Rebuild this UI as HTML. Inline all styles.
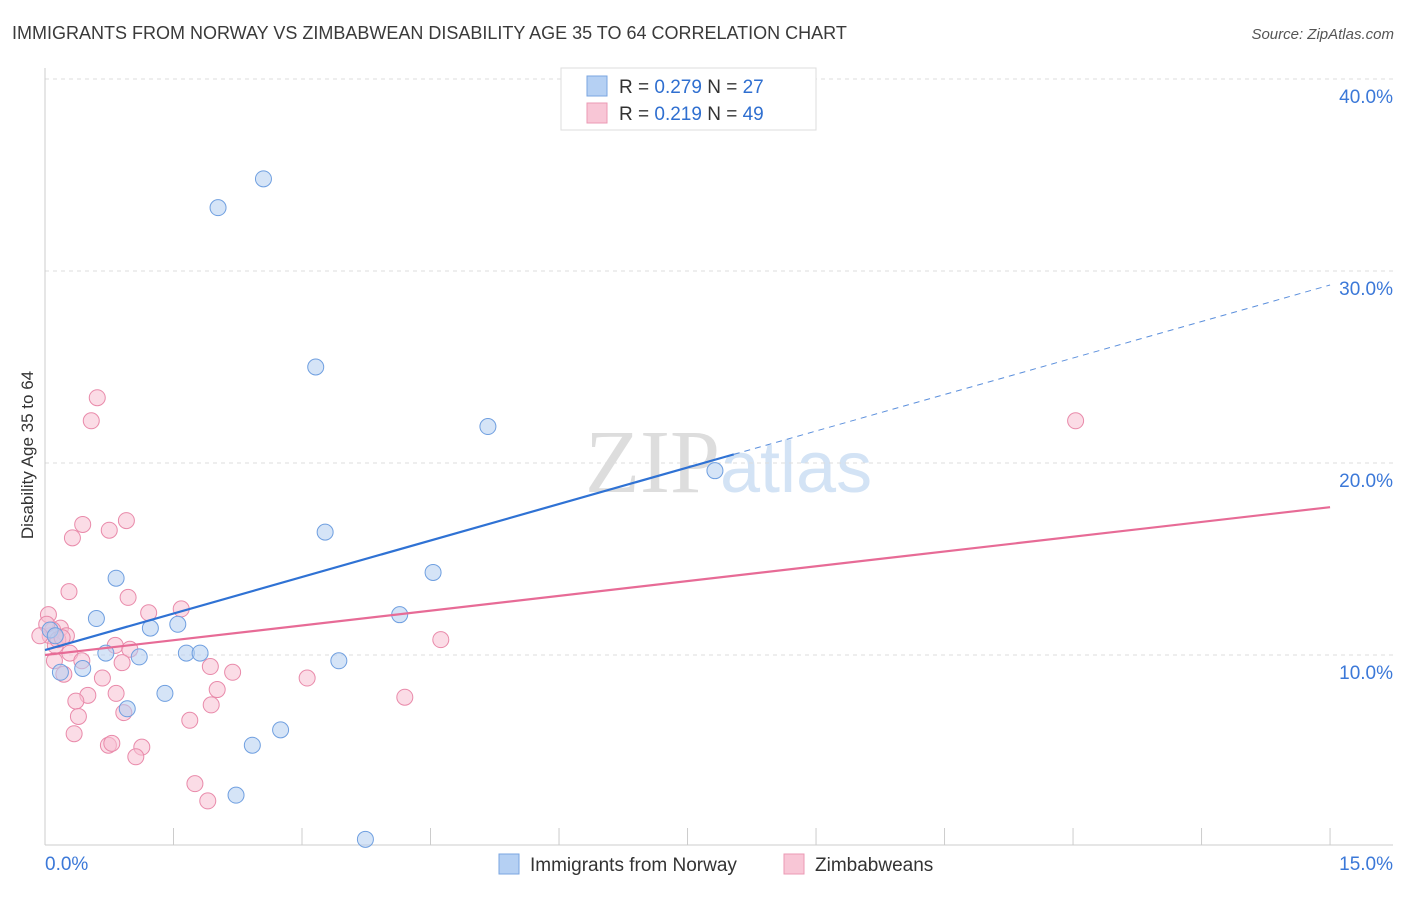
<!DOCTYPE html>
<html><head><meta charset="utf-8"><style>
body{margin:0;background:#fff;font-family:"Liberation Sans",sans-serif;}
</style></head><body>
<svg id="c" width="1406" height="892" xmlns="http://www.w3.org/2000/svg">
<text x="12" y="39" font-size="18" fill="#3a3a3a">IMMIGRANTS FROM NORWAY VS ZIMBABWEAN DISABILITY AGE 35 TO 64 CORRELATION CHART</text>
<text x="1394" y="39" font-size="15" fill="#555" font-style="italic" text-anchor="end">Source: ZipAtlas.com</text>
<text x="720" y="492" font-size="90" fill="#ddd" text-anchor="end" font-family="Liberation Serif">ZIP</text>
<text x="720" y="492" font-size="72" fill="#d3e3f5">atlas</text>
<text transform="translate(33,455) rotate(-90)" font-size="17" fill="#333" text-anchor="middle">Disability Age 35 to 64</text>
<g id="grid"></g><g id="marks"></g>
<g>
<rect x="561" y="68" width="255" height="62" fill="#fff" stroke="#ddd"/>
<rect x="587" y="76" width="20" height="20" fill="#b5d0f3" stroke="#7aa6e0"/>
<rect x="587" y="103" width="20" height="20" fill="#f8c6d6" stroke="#eb9ab4"/>
<text x="619" y="93" font-size="19" fill="#333">R = <tspan fill="#2f6fd0">0.279</tspan>   N = <tspan fill="#2f6fd0">27</tspan></text>
<text x="619" y="120" font-size="19" fill="#333">R =  <tspan fill="#2f6fd0">0.219</tspan>   N = <tspan fill="#2f6fd0">49</tspan></text>
</g>
<g>
<rect x="499" y="854" width="20" height="20" fill="#b5d0f3" stroke="#7aa6e0"/>
<text x="530" y="871" font-size="19" fill="#333">Immigrants from Norway</text>
<rect x="784" y="854" width="20" height="20" fill="#f8c6d6" stroke="#eb9ab4"/>
<text x="815" y="871" font-size="19" fill="#333">Zimbabweans</text>
</g>
</svg>
<script>
const yTicks=[10,20,30,40];
const xTickLabels=["0.0%","15.0%"];
const blueX=[2.55,2.02,3.16,5.17,7.82,3.27,4.53,0.83,0.60,1.23,1.55,4.14,0.06,1.65,1.81,1.10,0.71,0.44,0.18,3.43,1.40,0.96,2.75,2.42,2.23,3.74,0.12];
const blueY=[34.8,33.3,25.0,21.9,19.6,16.4,14.3,14.0,11.9,11.4,11.6,12.1,11.3,10.1,10.1,9.9,10.1,9.3,9.1,9.7,8.0,7.2,6.1,5.3,2.7,0.4,11.0];
const pinkX=[0.61,0.54,12.03,0.95,0.44,0.75,0.32,0.28,0.97,1.21,1.59,0.04,0.18,0.06,0.25,0.12,0.82,0.99,0.29,0.43,0.11,0.90,1.93,2.19,3.06,0.67,0.22,2.01,0.50,0.83,4.20,4.62,0.36,1.94,0.92,0.39,1.69,0.34,0.74,0.78,1.13,1.06,1.75,1.90,0.09,0.15,0.02,-0.06,0.2];
const pinkY=[23.4,22.2,22.2,17.0,16.8,16.5,16.1,13.3,13.0,12.2,12.4,12.1,11.4,11.0,11.0,10.5,10.5,10.3,10.1,9.7,9.7,9.6,9.4,9.1,8.8,8.8,9.0,8.2,7.9,8.0,7.8,10.8,7.6,7.4,7.0,6.8,6.6,5.9,5.3,5.4,5.2,4.7,3.3,2.4,11.3,10.8,11.6,11.0,10.9];
const blueTrend=[10.26,29.27], pinkTrend=[10.0,17.7];
const X=v=>45+v*85.67, Y=v=>847-v*19.2;
const NS="http://www.w3.org/2000/svg";
function mk(t,a,p){const e=document.createElementNS(NS,t);for(const k in a)e.setAttribute(k,a[k]);p.appendChild(e);return e;}
const g=document.getElementById('grid'),m=document.getElementById('marks');
yTicks.forEach(t=>{const l=mk('line',{x1:45,x2:1393,y1:Y(t),y2:Y(t),stroke:'#ddd','stroke-dasharray':'4,4'},g);

const tx=mk('text',{x:1393,y:Y(t)+24,'font-size':19,fill:'#3b78d8','text-anchor':'end'},g);tx.textContent=t.toFixed(1)+'%';
});
mk('line',{x1:45,x2:1393,y1:845,y2:845,stroke:'#ccc'},g);
mk('line',{x1:45,x2:45,y1:68,y2:845,stroke:'#ccc'},g);
for(let i=0;i<=10;i++){const t=mk('line',{x1:X(i*1.5),x2:X(i*1.5),y1:828,y2:845,stroke:'#ccc'},g);}
[[0,'start',45],[15,'end',1393]].forEach((d,i)=>{const t=mk('text',{x:d[2],y:870,'font-size':19,fill:'#3b78d8','text-anchor':d[1]},g);t.textContent=xTickLabels[i];});
function pts(xs,ys,f,s,n){xs.forEach((x,i)=>{const c=mk('circle',{cx:X(x),cy:Y(ys[i]),r:8,fill:f,'fill-opacity':0.55,stroke:s,'stroke-width':1},m);});}
pts(pinkX,pinkY,'#f8c0d2','#e98aaa','zimbabwean-point');
pts(blueX,blueY,'#b3cdf1','#6f9fe0','norway-point');
const xs=8.04;
let l=mk('line',{x1:X(0),y1:Y(blueTrend[0]),x2:X(xs),y2:Y(blueTrend[0]+(blueTrend[1]-blueTrend[0])*xs/15),stroke:'#2f72d4','stroke-width':2.2},m);

l=mk('line',{x1:X(xs),y1:Y(blueTrend[0]+(blueTrend[1]-blueTrend[0])*xs/15),x2:X(15),y2:Y(blueTrend[1]),stroke:'#5b8fdc','stroke-width':1,'stroke-dasharray':'6,5'},m);

l=mk('line',{x1:X(0),y1:Y(pinkTrend[0]),x2:X(15),y2:Y(pinkTrend[1]),stroke:'#e76b96','stroke-width':2.2},m);

</script>
</body></html>
